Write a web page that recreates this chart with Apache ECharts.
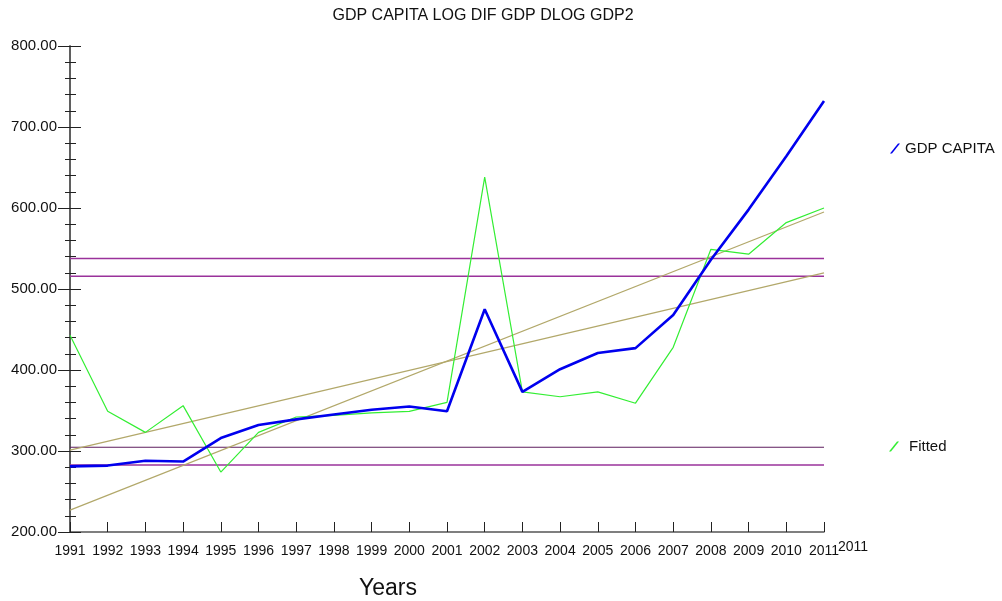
<!DOCTYPE html>
<html>
<head>
<meta charset="utf-8">
<script src="https://cdn.jsdelivr.net/npm/echarts@6/dist/echarts.min.js"></script>
<style>
  html, body { margin: 0; padding: 0; background: #fff; }
  #chart { width: 1002px; height: 601px; }
</style>
</head>
<body>
<div id="chart"></div>
<script>
// Years on the horizontal axis
const years = [1991, 1992, 1993, 1994, 1995, 1996, 1997, 1998, 1999, 2000, 2001,
               2002, 2003, 2004, 2005, 2006, 2007, 2008, 2009, 2010, 2011];

// GDP per capita
const gdpCapita = [281, 282, 288, 287, 316, 332, 339, 345, 351, 355, 349,
                   475, 373, 401, 421, 427, 468, 536, 598, 664, 732];

// Fitted values
const fitted = [443, 349, 323, 356, 274, 323, 342, 344, 347, 349, 360,
                638, 373, 367, 373, 359, 428, 549, 543, 582, 600];

// Horizontal reference levels
const bandLevels = [537.6, 515.6, 282.7];
const baseLevel = [304.6];

// Trend lines: values at the first and last year
const trendSteep = [227, 595];
const trendFlat = [301, 520];

// Y axis ticks
const yMin = 200, yMax = 800, yStep = 100;

const FONT = '"Liberation Sans", Arial, sans-serif';
const first = years[0], last = years[years.length - 1];

function span(v0, v1) { return [[first, v0], [last, v1]]; }

function refSeries(data, color, width) {
  return {
    type: 'line', data: data, symbol: 'none', silent: true,
    lineStyle: { color: color, width: width }, z: 1, animation: false
  };
}

const series = [];
bandLevels.forEach(v => series.push(refSeries(span(v, v), '#9a329b', 1.5)));
baseLevel.forEach(v => series.push(refSeries(span(v, v), '#5e1d5e', 1.2)));
series.push(refSeries(span(trendSteep[0], trendSteep[1]), '#b2a86a', 1.2));
series.push(refSeries(span(trendFlat[0], trendFlat[1]), '#b2a86a', 1.2));
series.push({
  name: 'Fitted', type: 'line', symbol: 'none', z: 3, animation: false,
  data: years.map((y, i) => [y, fitted[i]]),
  itemStyle: { color: '#33ee33' },
  lineStyle: { color: '#33ee33', width: 1.2 }
});
series.push({
  name: 'GDP CAPITA', type: 'line', symbol: 'none', z: 4, animation: false,
  data: years.map((y, i) => [y, gdpCapita[i]]),
  itemStyle: { color: '#0000ee' },
  lineStyle: { color: '#0000ee', width: 2.6 }
});

const slashIcon = 'path://M0,10 L8,0 L10,0 L2,10 Z';
const yAxisBase = {
  type: 'value', min: yMin, max: yMax, interval: yStep, position: 'left',
  splitLine: { show: false },
  axisLine: { show: true, lineStyle: { color: '#555', width: 1.5 } },
  minorSplitLine: { show: false }
};

const chart = echarts.init(document.getElementById('chart'));
chart.setOption({
  backgroundColor: '#fff',
  animation: false,
  title: {
    text: 'GDP CAPITA LOG DIF GDP DLOG GDP2',
    left: 478, top: 3, textAlign: 'center',
    textStyle: { fontFamily: FONT, fontSize: 16, fontWeight: 'normal', color: '#111' }
  },
  legend: [
    {
      data: ['GDP CAPITA'], left: 885, top: 136, icon: slashIcon,
      itemWidth: 10, itemHeight: 10, selectedMode: false,
      textStyle: { fontFamily: FONT, fontSize: 15, color: '#111' }
    },
    {
      data: ['Fitted'], left: 884, top: 434, icon: slashIcon,
      itemWidth: 10, itemHeight: 10, selectedMode: false,
      textStyle: { fontFamily: FONT, fontSize: 15, color: '#111', padding: [0, 0, 0, 5] }
    }
  ],
  grid: { left: 70, right: 178, top: 46, bottom: 69, outerBoundsMode: 'none' },
  xAxis: {
    type: 'value', min: first, max: last, interval: 1,
    name: 'Years', nameLocation: 'middle', nameGap: 45,
    nameTextStyle: { fontFamily: FONT, fontSize: 23, color: '#111', padding: [0, 118, 0, 0] },
    axisLine: { show: true, lineStyle: { color: '#555', width: 1.5 } },
    axisTick: { show: true, inside: true, length: 10, lineStyle: { color: '#222' } },
    axisLabel: { fontFamily: FONT, fontSize: 14, color: '#111', margin: 12, formatter: v => String(v) },
    splitLine: { show: false }
  },
  yAxis: [
    Object.assign({}, yAxisBase, {
      axisTick: { show: true, inside: false, length: 12, lineStyle: { color: '#222' } },
      minorTick: { show: true, splitNumber: 5, length: 5, lineStyle: { color: '#222' } },
      axisLabel: { fontFamily: FONT, fontSize: 15, color: '#111', margin: 13,
                   formatter: v => v.toFixed(2) }
    }),
    Object.assign({}, yAxisBase, {
      axisTick: { show: true, inside: true, length: 11, lineStyle: { color: '#222' } },
      minorTick: { show: true, splitNumber: 5, length: 6, lineStyle: { color: '#222' } },
      axisLabel: { show: false }
    })
  ],
  graphic: [
    {
      type: 'text', left: 838, top: 540,
      style: { text: String(last), font: '14px ' + FONT, fill: '#111' }
    }
  ],
  series: series
});
</script>
</body>
</html>
